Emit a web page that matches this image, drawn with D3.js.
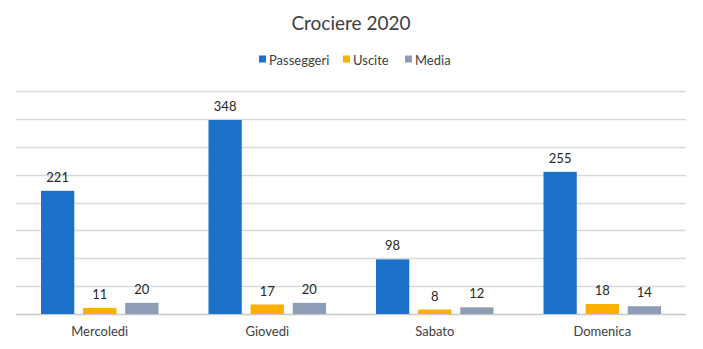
<!DOCTYPE html>
<html>
<head>
<meta charset="utf-8">
<script src="https://cdn.jsdelivr.net/npm/d3@7"></script>
<style>
  html, body { margin: 0; padding: 0; background: #fff; }
  svg { display: block; font-family: Lato, "Open Sans", "Liberation Sans", sans-serif; }
</style>
</head>
<body>
<svg id="chart" width="703" height="349"></svg>
<script>
// Giorni di crociera e serie
const categories = ["Mercoledì", "Giovedì", "Sabato", "Domenica"];
const seriesNames = ["Passeggeri", "Uscite", "Media"];
const passeggeri = [221, 348, 98, 255];
const uscite = [11, 17, 8, 18];
const media = [20, 20, 12, 14];
const yTicks = [0, 50, 100, 150, 200, 250, 300, 350, 400];
const colors = ["#1c71c9", "#fbb000", "#8e9db6"];

const seriesValues = [passeggeri, uscite, media];
const rows = categories.map((c, i) => ({
  cat: c,
  vals: seriesNames.map((s, j) => ({ key: s, value: seriesValues[j][i] }))
}));

const svg = d3.select("#chart");
const plotLeft = 16, plotRight = 686, plotTop = 91, plotBottom = 314;

const x0 = d3.scaleBand().domain(categories).range([plotLeft, plotRight]).padding(0);
const x1 = d3.scaleBand().domain(seriesNames)
  .range([25, x0.bandwidth() - 25]).paddingInner(0.21).paddingOuter(0);
const y = d3.scaleLinear().domain([0, 400]).range([plotBottom, plotTop]);
const color = d3.scaleOrdinal().domain(seriesNames).range(colors);

// Griglia orizzontale
svg.append("g")
  .selectAll("line")
  .data(yTicks)
  .join("line")
  .attr("x1", plotLeft).attr("x2", plotRight)
  .attr("y1", d => Math.round(y(d)) + 0.5)
  .attr("y2", d => Math.round(y(d)) + 0.5)
  .attr("stroke", d => d === 0 ? "#c8c8c8" : "#d9d9d9")
  .attr("stroke-width", 1.3);

// Titolo
svg.append("text")
  .attr("x", 351).attr("y", 30)
  .attr("text-anchor", "middle")
  .attr("font-size", 19)
  .attr("fill", "#404040")
  .text("Crociere 2020");

// Legenda
const legendX = [259, 343, 405];
const legend = svg.append("g")
  .selectAll("g")
  .data(seriesNames)
  .join("g")
  .attr("transform", (d, i) => `translate(${legendX[i]},60)`);
legend.append("rect")
  .attr("x", 0).attr("y", -4.5)
  .attr("width", 7).attr("height", 7)
  .attr("fill", d => color(d));
legend.append("text")
  .attr("x", 10).attr("y", 4.5)
  .attr("font-size", 13)
  .attr("fill", "#404040")
  .text(d => d);

// Barre raggruppate
const groups = svg.append("g")
  .selectAll("g")
  .data(rows)
  .join("g")
  .attr("transform", d => `translate(${x0(d.cat)},0)`);

groups.selectAll("rect")
  .data(d => d.vals)
  .join("rect")
  .attr("x", d => x1(d.key))
  .attr("width", x1.bandwidth())
  .attr("y", d => y(d.value))
  .attr("height", d => y(0) - y(d.value))
  .attr("fill", d => color(d.key));

groups.selectAll("text")
  .data(d => d.vals)
  .join("text")
  .attr("x", d => x1(d.key) + x1.bandwidth() / 2)
  .attr("y", d => y(d.value) - 9)
  .attr("text-anchor", "middle")
  .attr("font-size", 13)
  .attr("fill", "#262626")
  .text(d => d.value);

// Asse delle categorie
const xAxis = svg.append("g")
  .attr("transform", `translate(0,${plotBottom})`)
  .call(d3.axisBottom(x0).tickSize(0).tickPadding(13));
xAxis.select(".domain").remove();
xAxis.selectAll("text")
  .attr("font-size", 13)
  .attr("font-family", 'Lato, "Open Sans", "Liberation Sans", sans-serif')
  .attr("fill", "#404040");
</script>
</body>
</html>
